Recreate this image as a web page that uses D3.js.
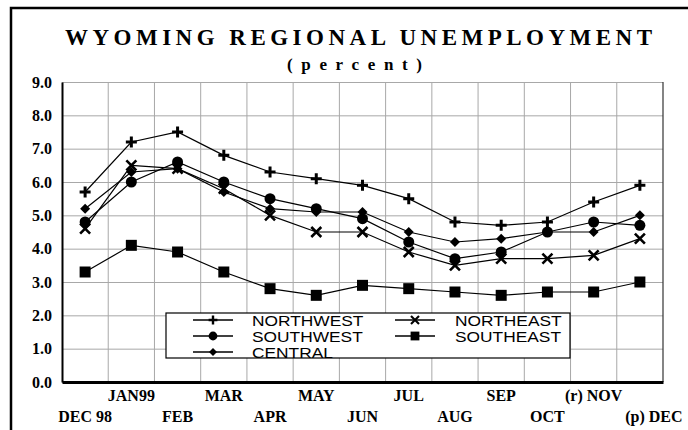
<!DOCTYPE html>
<html>
<head>
<meta charset="utf-8">
<script src="https://cdn.jsdelivr.net/npm/d3@7"></script>
<style>
  body { margin: 0; background: #fff; }
  svg { display: block; }
</style>
</head>
<body>
<script>
// Data
const months = ["DEC 98", "JAN99", "FEB", "MAR", "APR", "MAY", "JUN", "JUL", "AUG", "SEP", "OCT", "(r) NOV", "(p) DEC"];
const northwest = [5.7, 7.2, 7.5, 6.8, 6.3, 6.1, 5.9, 5.5, 4.8, 4.7, 4.8, 5.4, 5.9];
const southwest = [4.8, 6.0, 6.6, 6.0, 5.5, 5.2, 4.9, 4.2, 3.7, 3.9, 4.5, 4.8, 4.7];
const central = [5.2, 6.3, 6.4, 5.7, 5.2, 5.1, 5.1, 4.5, 4.2, 4.3, 4.5, 4.5, 5.0];
const northeast = [4.6, 6.5, 6.4, 5.8, 5.0, 4.5, 4.5, 3.9, 3.5, 3.7, 3.7, 3.8, 4.3];
const southeast = [3.3, 4.1, 3.9, 3.3, 2.8, 2.6, 2.9, 2.8, 2.7, 2.6, 2.7, 2.7, 3.0];
const yTicks = [0, 1, 2, 3, 4, 5, 6, 7, 8, 9];

const series = [
  { name: "NORTHWEST", values: northwest, marker: "plus" },
  { name: "SOUTHWEST", values: southwest, marker: "circle" },
  { name: "CENTRAL", values: central, marker: "diamond" },
  { name: "NORTHEAST", values: northeast, marker: "x" },
  { name: "SOUTHEAST", values: southeast, marker: "square" }
];

let width = 688;
let height = 430;
let margin = { top: 82, right: 25, bottom: 48, left: 62 };

let svg = d3.select("body")
  .append("svg")
  .attr("width", width)
  .attr("height", height);

// outer frame (runs off the right and bottom edges)
svg.append("rect")
  .attr("x", 11)
  .attr("y", 8)
  .attr("width", 720)
  .attr("height", 460)
  .attr("fill", "none")
  .attr("stroke", "#000")
  .attr("stroke-width", 2.5);

// Title
svg.append("text")
  .attr("x", 65)
  .attr("y", 45)
  .attr("textLength", 587)
  .attr("lengthAdjust", "spacing")
  .style("font-family", "'Liberation Serif', 'Times New Roman', serif")
  .style("font-weight", "bold")
  .style("font-size", "23px")
  .text("WYOMING REGIONAL UNEMPLOYMENT");

svg.append("text")
  .attr("x", 287)
  .attr("y", 70)
  .attr("textLength", 135)
  .attr("lengthAdjust", "spacing")
  .style("font-family", "'Liberation Serif', 'Times New Roman', serif")
  .style("font-weight", "bold")
  .style("font-size", "17px")
  .text("(percent)");

// Scales
let xScale = d3.scaleBand()
  .domain(months)
  .range([margin.left, width - margin.right]);
let yScale = d3.scaleLinear()
  .domain([0, 9])
  .range([height - margin.bottom, margin.top]);
let cx = (i) => xScale(months[i]) + xScale.bandwidth() / 2;

// Horizontal grid
svg.append("g")
  .attr("class", "grid")
  .attr("transform", "translate(" + margin.left + ",0)")
  .call(d3.axisLeft(yScale).tickValues(yTicks).tickSize(-(width - margin.left - margin.right)).tickFormat(""))
  .call((g) => g.select(".domain").remove())
  .call((g) => g.selectAll("line").attr("stroke", "#a8a8a8"));

// Vertical grid at band edges
let edges = months.slice(1);
svg.append("g")
  .attr("class", "grid")
  .selectAll("line")
  .data(edges)
  .enter()
  .append("line")
  .attr("x1", (d) => xScale(d))
  .attr("x2", (d) => xScale(d))
  .attr("y1", yScale(9))
  .attr("y2", yScale(0))
  .attr("stroke", "#a8a8a8");

// right edge of the plot
svg.append("line")
  .attr("x1", width - margin.right)
  .attr("x2", width - margin.right)
  .attr("y1", yScale(9))
  .attr("y2", yScale(0))
  .attr("stroke", "#333")
  .attr("stroke-width", 1.2);

// Y axis
svg.append("g")
  .attr("transform", "translate(" + margin.left + ",0)")
  .call(d3.axisLeft(yScale).tickValues(yTicks).tickSize(0).tickPadding(10).tickFormat(d3.format(".1f")))
  .call((g) => g.select(".domain").attr("stroke", "#000").attr("stroke-width", 2))
  .call((g) => g.selectAll("text")
    .attr("fill", "#000")
    .style("font-family", "'Liberation Serif', 'Times New Roman', serif")
    .style("font-weight", "bold")
    .style("font-size", "16px"));

// X axis, labels staggered in two rows
svg.append("g")
  .attr("transform", "translate(0," + yScale(0) + ")")
  .call(d3.axisBottom(xScale).tickSize(0).tickSizeOuter(0))
  .call((g) => g.select(".domain").attr("stroke", "#000").attr("stroke-width", 3))
  .call((g) => g.selectAll("text")
    .attr("fill", "#000")
    .attr("dy", null)
    .attr("y", (d, i) => (i % 2 === 1 ? 19 : 40))
    .attr("dx", (d, i) => (i === months.length - 1 ? 14 : 0))
    .style("font-family", "'Liberation Serif', 'Times New Roman', serif")
    .style("font-weight", "bold")
    .style("font-size", "16px"));

// Marker drawing
function drawMarker(sel, type) {
  if (type === "plus") {
    sel.append("path")
      .attr("d", "M-5.5,0H5.5M0,-5.5V5.5")
      .attr("stroke", "#000")
      .attr("stroke-width", 3);
  } else if (type === "x") {
    sel.append("path")
      .attr("d", "M-5,-5L5,5M-5,5L5,-5")
      .attr("stroke", "#000")
      .attr("stroke-width", 2.6);
  } else if (type === "circle") {
    sel.append("path").attr("d", d3.symbol(d3.symbolCircle, 95)()).attr("fill", "#000");
  } else if (type === "diamond") {
    sel.append("path").attr("d", "M0,-5L5,0L0,5L-5,0Z").attr("fill", "#000");
  } else if (type === "square") {
    sel.append("path").attr("d", "M-5.5,-5.5H5.5V5.5H-5.5Z").attr("fill", "#000");
  }
}

let line = d3.line()
  .x((d, i) => cx(i))
  .y((d) => yScale(d));

let seriesG = svg.selectAll(".series")
  .data(series)
  .enter()
  .append("g")
  .attr("class", "series");

seriesG.append("path")
  .attr("d", (d) => line(d.values))
  .attr("fill", "none")
  .attr("stroke", "#000")
  .attr("stroke-width", 1.2);

seriesG.each(function (s) {
  d3.select(this)
    .selectAll(".pt")
    .data(s.values)
    .enter()
    .append("g")
    .attr("class", "pt")
    .attr("transform", (d, i) => "translate(" + cx(i) + "," + yScale(d) + ")")
    .each(function () {
      drawMarker(d3.select(this), s.marker);
    });
});

// Legend
let legend = svg.append("g").attr("id", "legend");
legend.append("rect")
  .attr("x", 166)
  .attr("y", 313)
  .attr("width", 404)
  .attr("height", 45)
  .attr("fill", "#fff")
  .attr("stroke", "#000")
  .attr("stroke-width", 1.2);

let legendPos = [
  { x: 193, y: 320 },
  { x: 193, y: 336 },
  { x: 193, y: 352 },
  { x: 395, y: 320 },
  { x: 395, y: 336 }
];
let legendTextX = [252, 252, 252, 455, 455];

let item = legend.selectAll(".legend-item")
  .data(series)
  .enter()
  .append("g")
  .attr("class", "legend-item");

item.append("line")
  .attr("x1", (d, i) => legendPos[i].x)
  .attr("x2", (d, i) => legendPos[i].x + 40)
  .attr("y1", (d, i) => legendPos[i].y)
  .attr("y2", (d, i) => legendPos[i].y)
  .attr("stroke", "#000")
  .attr("stroke-width", 1.5);

item.each(function (d, i) {
  let m = d3.select(this).append("g")
    .attr("transform", "translate(" + (legendPos[i].x + 20) + "," + legendPos[i].y + ") scale(0.8)");
  drawMarker(m, d.marker);
});

item.append("text")
  .attr("transform", (d, i) => "translate(" + legendTextX[i] + "," + (legendPos[i].y + 5.5) + ") scale(1.24,1)")
  .style("font-family", "'Liberation Sans', Arial, sans-serif")
  .style("font-size", "14px")
  .text((d) => d.name);
</script>
</body>
</html>
